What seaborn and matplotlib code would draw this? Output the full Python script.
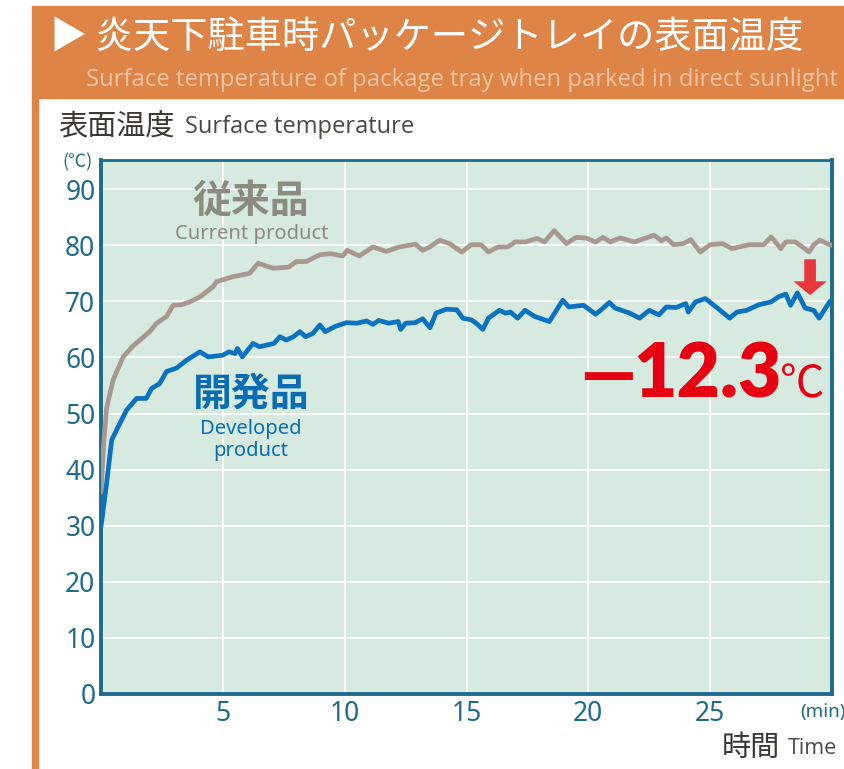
import pandas as pd
import matplotlib.pyplot as plt
import seaborn as sns
from matplotlib.patches import Rectangle

# Data (time in minutes, temperature in deg C)
time_current = [0, 0.1, 0.23, 0.5, 0.91, 1.3, 1.6, 2.0, 2.28, 2.69, 2.96, 3.3, 3.65, 4.06,
                4.6, 4.74, 5.42, 6.1, 6.45, 7.06, 7.7, 8.02, 8.43, 8.98, 9.4, 9.93, 10.1,
                10.6, 11.16, 11.7, 12.25, 12.9, 13.2, 13.5, 13.9, 14.3, 14.8, 15.2, 15.6,
                15.9, 16.3, 16.7, 17.0, 17.4, 17.9, 18.2, 18.6, 19.1, 19.5, 19.9, 20.3,
                20.6, 20.9, 21.3, 21.9, 22.3, 22.7, 23.0, 23.2, 23.5, 23.9, 24.2, 24.6,
                25.0, 25.5, 25.9, 26.6, 27.2, 27.5, 27.9, 28.1, 28.5, 29.06, 29.25, 29.5,
                29.9, 30.0]
temp_current = [36, 44, 51, 56, 60.1, 62, 63.1, 64.6, 66.1, 67.3, 69.3, 69.4, 69.9, 70.8,
                72.6, 73.5, 74.4, 75.0, 76.8, 75.9, 76.1, 77.1, 77.1, 78.3, 78.5, 78.1, 79.1,
                78.1, 79.7, 78.9, 79.7, 80.2, 79.1, 79.7, 80.9, 80.3, 78.8, 80.1, 80.1,
                78.8, 79.7, 79.7, 80.6, 80.6, 81.2, 80.6, 82.6, 80.3, 81.4, 81.3, 80.6,
                81.4, 80.6, 81.3, 80.6, 81.2, 81.8, 80.8, 81.3, 80.1, 80.3, 81.0, 78.8,
                80.1, 80.3, 79.4, 80.1, 80.1, 81.5, 79.4, 80.6, 80.6, 78.8, 80.1, 80.9,
                80.1, 80.0]

time_developed = [0, 0.23, 0.44, 0.78, 1.05, 1.46, 1.86, 2.08, 2.4, 2.69, 3.1, 3.51, 4.06,
                  4.4, 5.0, 5.25, 5.5, 5.6, 5.8, 6.24, 6.5, 7.1, 7.34, 7.6, 7.9, 8.16, 8.4,
                  8.7, 8.98, 9.2, 9.6, 10.07, 10.5, 10.9, 11.16, 11.4, 11.8, 12.2, 12.3,
                  12.5, 12.9, 13.2, 13.5, 13.75, 14.17, 14.6, 14.85, 15.2, 15.4, 15.67,
                  15.9, 16.35, 16.6, 16.8, 17.1, 17.4, 17.8, 18.2, 18.4, 18.95, 19.2, 19.8,
                  20.3, 20.5, 20.86, 21.1, 21.7, 22.1, 22.5, 22.9, 23.2, 23.6, 24.0, 24.1,
                  24.4, 24.8, 25.3, 25.8, 26.1, 26.5, 27.0, 27.5, 27.8, 28.1, 28.3, 28.58,
                  28.9, 29.25, 29.47, 29.9, 30.0]
temp_developed = [29.8, 37.6, 45.3, 48.3, 50.6, 52.7, 52.7, 54.5, 55.3, 57.5, 58.1, 59.5, 61.0,
                  60.1, 60.4, 61.0, 60.7, 61.6, 60.1, 62.5, 61.9, 62.5, 63.7, 63.1, 63.7, 64.6, 63.7,
                  64.3, 65.8, 64.6, 65.5, 66.2, 66.1, 66.5, 65.9, 66.6, 66.1, 66.4, 65.0,
                  66.1, 66.2, 66.9, 65.3, 67.9, 68.6, 68.5, 67.0, 66.7, 66.1, 65.0,
                  67.0, 68.4, 67.9, 68.1, 67.0, 68.4, 67.3, 66.7, 66.4, 70.2, 69.0, 69.3,
                  67.7, 68.4, 69.8, 68.8, 67.9, 67.0, 68.4, 67.6, 69.0, 68.9, 69.6, 68.1,
                  69.9, 70.5, 68.8, 67.0, 68.1, 68.4, 69.4, 69.9, 70.8, 71.3, 69.3, 71.5,
                  68.8, 68.4, 67.0, 69.9, 70.3]

x_ticks = [5, 10, 15, 20, 25]
y_ticks = [0, 10, 20, 30, 40, 50, 60, 70, 80, 90]

ORANGE = '#df8447'
TEAL = '#1e6b8c'
GRAY = '#a89890'
BLUE = '#0a72c0'
RED = '#e60012'

sns.set_style('white', {'axes.facecolor': '#d6eae0'})
plt.rcParams['font.family'] = ['Noto Sans CJK JP', 'DejaVu Sans']

W, H = 844, 769


def fx(px):
    return px / W


def fy(py):
    return 1 - py / H


df = pd.concat([
    pd.DataFrame({'t': time_current, 'temp': temp_current, 'product': 'current'}),
    pd.DataFrame({'t': time_developed, 'temp': temp_developed, 'product': 'developed'}),
])

fig = plt.figure(figsize=(W / 100, H / 100), dpi=100)
fig.patch.set_facecolor('white')

# orange frame
fig.patches.append(Rectangle((fx(32), fy(98)), 1 - fx(32), fy(6) - fy(98),
                             transform=fig.transFigure, color=ORANGE, zorder=0))
fig.patches.append(Rectangle((fx(32), 0), fx(6), fy(98),
                             transform=fig.transFigure, color=ORANGE, zorder=0))

ax = fig.add_axes([fx(101), fy(694), fx(832) - fx(101), fy(160) - fy(694)])
sns.lineplot(data=df, x='t', y='temp', hue='product', estimator=None, sort=False,
             palette={'current': GRAY, 'developed': BLUE}, linewidth=3.4,
             legend=False, ax=ax, zorder=3)

ax.set_xlim(0, 30)
ax.set_ylim(0, 95.2)
ax.set_xticks(x_ticks)
ax.set_yticks(y_ticks)
ax.grid(True, color='white', linewidth=1.2, zorder=0)
ax.set_axisbelow(True)
ax.set_xlabel('')
ax.set_ylabel('')
for side, lw in [('left', 2.8), ('bottom', 2.8), ('top', 2.0), ('right', 2.8)]:
    ax.spines[side].set_visible(True)
    ax.spines[side].set_color(TEAL)
    ax.spines[side].set_linewidth(lw)
ax.tick_params(direction='in', length=8, width=1.8, color=TEAL, labelcolor=TEAL,
               labelsize=19, pad=4)
for lab in ax.get_xticklabels() + ax.get_yticklabels():
    lab.set_fontfamily(['Noto Sans', 'DejaVu Sans'])
    lab.set_fontweight('semibold')

# in-plot labels
fig.text(fx(251), fy(201), '従来品', fontsize=28, fontweight='bold', color='#8c8b7f',
         ha='center', va='center')
fig.text(fx(252), fy(234), 'Current product', fontsize=14.5, color='#8c8b7f',
         ha='center', va='center', family=['Noto Sans', 'DejaVu Sans'])
fig.text(fx(251), fy(394), '開発品', fontsize=28, fontweight='bold', color='#0a6db3',
         ha='center', va='center')
fig.text(fx(251), fy(440), 'Developed\nproduct', fontsize=14.5, color='#0a6db3',
         ha='center', va='center', linespacing=1.1, family=['Noto Sans', 'DejaVu Sans'])

# difference callout
fig.text(fx(782), fy(397), '12.3', fontsize=54, fontweight='heavy', color=RED,
         ha='right', va='baseline', family=['Lato', 'DejaVu Sans'])
fig.text(fx(608), fy(397), '—', fontsize=50, fontweight='heavy', color=RED,
         ha='center', va='baseline', family=['Lato', 'DejaVu Sans'])
fig.text(fx(780), fy(397), '℃', fontsize=32, color=RED,
         ha='left', va='baseline')

ax.annotate('', xy=(29.1, 70.6), xytext=(29.1, 78.0),
            arrowprops=dict(arrowstyle='simple,head_length=0.5,head_width=1.2,tail_width=0.42',
                            color='#e8383d', lw=0, mutation_scale=20), zorder=4)

# header texts
fig.text(fx(50), fy(38), '▶ 炎天下駐車時パッケージトレイの表面温度', fontsize=26.8, color='white',
         ha='left', va='center', family=['Noto Sans CJK JP', 'DejaVu Sans'])
fig.text(fx(86), fy(80), 'Surface temperature of package tray when parked in direct sunlight',
         fontsize=17.2, color='#f3c4a3', ha='left', va='center',
         family=['Open Sans', 'DejaVu Sans'])

fig.text(fx(58), fy(127), '表面温度', fontsize=21, color='#3a3a30', ha='left', va='center')
fig.text(fx(185), fy(127), 'Surface temperature', fontsize=17, color='#4a4a40', ha='left',
         va='center', family=['Open Sans', 'DejaVu Sans'])
fig.text(fx(62), fy(162), '(℃)', fontsize=13, color=TEAL, ha='left', va='center')

fig.text(fx(800), fy(712), '(min)', fontsize=13.5, color=TEAL, ha='left', va='center',
         family=['Noto Sans', 'DejaVu Sans'])
fig.text(fx(722), fy(748), '時間', fontsize=21, color='#3a3a30', ha='left', va='center')
fig.text(fx(788), fy(748), 'Time', fontsize=15.5, color='#4a4a40', ha='left', va='center',
         family=['Open Sans', 'DejaVu Sans'])

fig.savefig('out.png', dpi=100)
